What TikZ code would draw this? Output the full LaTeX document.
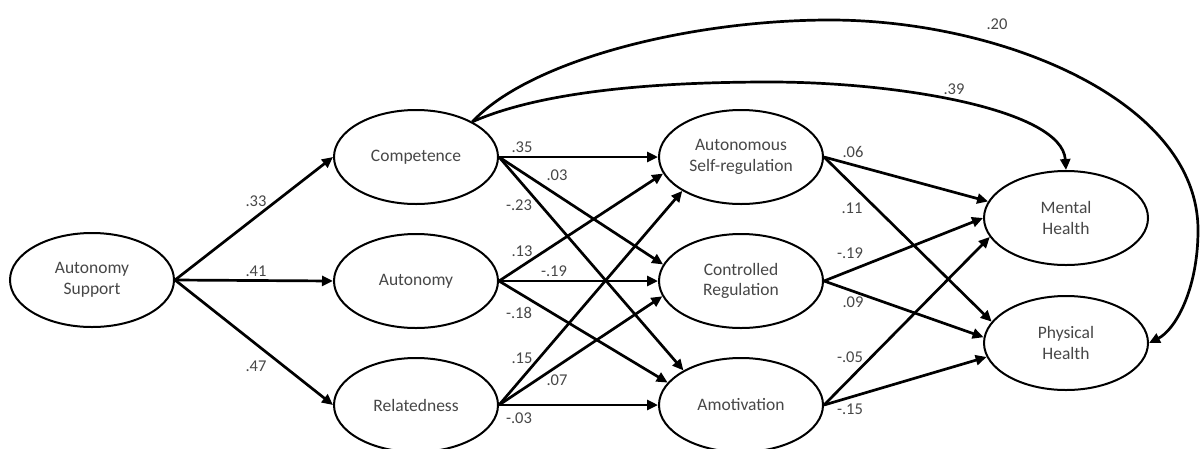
\documentclass[tikz,border=0pt]{standalone}
\usepackage{fontspec}
\setmainfont{Carlito}
\usetikzlibrary{arrows.meta,shapes.geometric}
\definecolor{txt}{HTML}{474747}
\begin{document}
\begin{tikzpicture}[x=1pt,y=-1pt,
  latent/.style={ellipse, draw=black, line width=2pt, minimum width=164pt,
    minimum height=94pt, inner sep=0pt, align=center,
    font=\fontsize{17.5}{20.5}\selectfont, text=txt},
  effect/.style={line width=2.7pt, -{Triangle[length=11pt,width=10pt]}},
  coef/.style={font=\fontsize{16.5}{18}\selectfont, text=txt, inner sep=0pt}]
\fill[white] (0,0) rectangle (1201,448);
\useasboundingbox (0,0) rectangle (1201,448);

% latent variables
\node[latent] (as)   at (92,280)   {Autonomy\\Support};
\node[latent] (comp) at (416,157)  {Competence};
\node[latent] (auto) at (416,281)  {Autonomy};
\node[latent] (rel)  at (416,405)  {Relatedness};
\node[latent] (asr)  at (741,157)  {Autonomous\\Self-regulation};
\node[latent] (ctl)  at (741,281)  {Controlled\\Regulation};
\node[latent] (amo)  at (741,405)  {Amotivation};
\node[latent] (mh)   at (1066,218) {Mental\\Health};
\node[latent] (ph)   at (1066,343) {Physical\\Health};

% autonomy support -> needs
\draw[effect] (as.east) -- (comp.west);
\draw[effect] (as.east) -- (auto.west);
\draw[effect] (as.east) -- (rel.west);

% needs -> regulation
\draw[effect] (comp.east) -- (asr.west);
\draw[effect] (comp.east) -- (ctl.168);
\draw[effect] (comp.east) -- (amo.149);
\draw[effect] (auto.east) -- (asr.192);
\draw[effect] (auto.east) -- (ctl.west);
\draw[effect] (auto.east) -- (amo.163);
\draw[effect] (rel.east) -- (asr.210);
\draw[effect] (rel.east) -- (ctl.191);
\draw[effect] (rel.east) -- (amo.west);

% regulation -> health
\draw[effect] (asr.east) -- (mh.168);
\draw[effect] (asr.east) -- (ph.164);
\draw[effect] (ctl.east) -- (mh.west);
\draw[effect] (ctl.east) -- (ph.176);
\draw[effect] (amo.east) -- (mh.194);
\draw[effect] (amo.east) -- (ph.190);

% direct effects of competence on health
\draw[effect] (comp.32) .. controls (530,60) and (690,20) .. (830,20)
  .. controls (1000,20) and (1198,100) .. (1198,230)
  .. controls (1198,290) and (1175,330) .. (ph.east);
\draw[effect] (comp.32) .. controls (540,92) and (650,82) .. (770,82)
  .. controls (900,82) and (1062,110) .. (mh.north);

% path coefficients
\node[coef] (c1)  at (256,201) {.33};
\node[coef] (c2)  at (256,271) {.41};
\node[coef] (c3)  at (256,366) {.47};
\node[coef] (c4)  at (522,147) {.35};
\node[coef] (c5)  at (557,175) {.03};
\node[coef] (c6)  at (519,205) {-.23};
\node[coef] (c7)  at (522,251) {.13};
\node[coef] (c8)  at (554,271) {-.19};
\node[coef] (c9)  at (519,313) {-.18};
\node[coef] (c10) at (522,358) {.15};
\node[coef] (c11) at (557,380) {.07};
\node[coef] (c12) at (519,418) {-.03};
\node[coef] (c13) at (853,152) {.06};
\node[coef] (c14) at (852,208) {.11};
\node[coef] (c15) at (850,253) {-.19};
\node[coef] (c16) at (853,302) {.09};
\node[coef] (c17) at (850,357) {-.05};
\node[coef] (c18) at (850,409) {-.15};
\node[coef] (c19) at (997,24)  {.20};
\node[coef] (c20) at (954,89)  {.39};
\end{tikzpicture}
\end{document}
